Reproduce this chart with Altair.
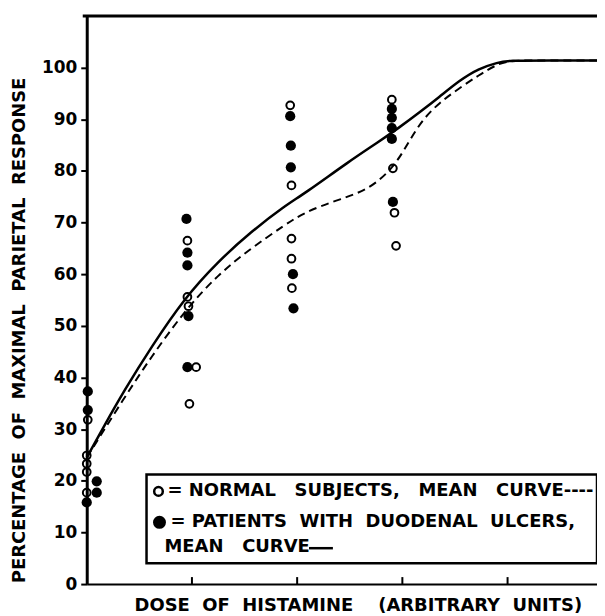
import altair as alt
import pandas as pd

# ---- data ----
normal_dose = [0.01, 0.0, 0.0, 0.0, 0.0,
               0.957, 0.957, 0.967, 1.04, 0.976,
               1.934, 1.946, 1.946, 1.946, 1.95,
               2.9, 2.91, 2.925, 2.94]
normal_val = [31.8, 24.9, 23.3, 21.7, 17.7,
              66.5, 55.6, 53.8, 42.0, 34.9,
              92.7, 77.2, 66.9, 63.0, 57.3,
              93.8, 80.5, 71.9, 65.5]

ulcer_dose = [0.01, 0.01, 0.0, 0.095, 0.095,
              0.948, 0.957, 0.957, 0.967, 0.957,
              1.934, 1.94, 1.94, 1.96, 1.965,
              2.9, 2.9, 2.9, 2.9, 2.91]
ulcer_val = [37.3, 33.7, 15.8, 19.9, 17.7,
             70.7, 64.2, 61.7, 51.9, 42.0,
             90.6, 84.9, 80.7, 60.0, 53.4,
             92.0, 90.3, 88.3, 86.2, 74.0]

solid_dose = [0.0, 0.17, 0.36, 0.61, 0.93, 1.245, 1.56, 1.88, 2.07, 2.49, 2.78, 2.97,
              3.16, 3.35, 3.54, 3.73, 3.91, 4.0, 4.4, 4.85]
solid_val = [24.5, 30.8, 37.6, 45.8, 55.4, 62.4, 68.2, 73.2, 75.6, 81.8, 85.7, 88.4,
             91.3, 94.3, 97.5, 99.9, 101.0, 101.4, 101.4, 101.4]

dash_dose = [0.0, 0.36, 0.61, 0.93, 1.245, 1.56, 1.88, 2.07, 2.37, 2.68, 2.92, 3.06,
             3.19, 3.35, 3.54, 3.73, 3.89, 4.0, 4.4, 4.85]
dash_val = [24.5, 36.2, 43.9, 52.9, 59.9, 65.0, 69.5, 72.0, 74.3, 76.3, 80.7, 85.6,
            89.9, 93.2, 96.0, 98.6, 100.5, 101.4, 101.4, 101.4]

tick_doses = [1, 2, 3, 4]
y_ticks = [0, 10, 20, 30, 40, 50, 60, 70, 80, 90, 100]

S = "\u00a0"
y_title = f"PERCENTAGE{S*2}OF{S*2}MAXIMAL{S*2}PARIETAL{S*2}RESPONSE"
x_title = f"DOSE{S*2}OF{S*2}HISTAMINE{S*4}(ARBITRARY{S*2}UNITS)"
legend_line1 = f"={S}NORMAL{S*3}SUBJECTS,{S*3}MEAN{S*3}CURVE----"
legend_line2 = f"={S}PATIENTS{S*2}WITH{S*2}DUODENAL{S*2}ULCERS,"
legend_line3 = f"MEAN{S*3}CURVE"

W, H = 512, 570
FONT = "DejaVu Sans"

normal_df = pd.DataFrame({"dose": normal_dose, "value": normal_val})
ulcer_df = pd.DataFrame({"dose": ulcer_dose, "value": ulcer_val})
solid_df = pd.DataFrame({"dose": solid_dose, "value": solid_val})
dash_df = pd.DataFrame({"dose": dash_dose, "value": dash_val})
tick_df = pd.DataFrame({"dose": tick_doses})

xscale = alt.Scale(domain=[0, 4.85], nice=False, zero=False)
yscale = alt.Scale(domain=[0, 110], nice=False)

xaxis = alt.Axis(labels=False, ticks=False, grid=False, domainColor="black",
                 domainWidth=2, title=x_title, titleFont=FONT, titleFontSize=18,
                 titleFontWeight="bold", titleColor="black", titleX=272, titleY=22,
                 titleAlign="center", titleBaseline="middle")
yaxis = alt.Axis(values=y_ticks, grid=False, domainColor="black", domainWidth=3,
                 tickColor="black", tickWidth=2, tickSize=6, labelPadding=4,
                 labelFont=FONT, labelFontSize=17, labelFontWeight="bold",
                 labelColor="black", title=y_title, titleFont=FONT,
                 titleFontSize=18, titleFontWeight="bold", titleColor="black",
                 titleX=-67, titleY=315, titleAngle=270, titleAlign="center",
                 titleBaseline="middle")

X = alt.X("dose:Q", scale=xscale, axis=xaxis)
Y = alt.Y("value:Q", scale=yscale, axis=yaxis)

solid = alt.Chart(solid_df).mark_line(interpolate="basis", color="black",
                                      strokeWidth=2.5).encode(x=X, y=Y)
dashed = alt.Chart(dash_df).mark_line(interpolate="basis", color="black",
                                      strokeWidth=2, strokeDash=[8, 5]).encode(x=X, y=Y)
open_pts = alt.Chart(normal_df).mark_point(shape="circle", filled=False, color="black",
                                           strokeWidth=2, size=60, opacity=1).encode(x=X, y=Y)
filled_pts = alt.Chart(ulcer_df).mark_circle(color="black", size=105,
                                             opacity=1).encode(x=X, y=Y)

xticks = alt.Chart(tick_df).mark_rule(color="black", strokeWidth=2).encode(
    x=alt.X("dose:Q", scale=xscale), y=alt.value(H), y2=alt.value(H - 7))

one = alt.Data(values=[{"k": 1}])
top_border = alt.Chart(one).mark_rule(color="black", strokeWidth=3).encode(
    x=alt.value(-4), x2=alt.value(W), y=alt.value(0))

legend_box = alt.Chart(one).mark_rect(fill="white", stroke="black", strokeWidth=2.5).encode(
    x=alt.value(60), x2=alt.value(512), y=alt.value(460), y2=alt.value(549))
leg_open = alt.Chart(one).mark_point(shape="circle", filled=False, color="black",
                                     strokeWidth=2.5, size=75, opacity=1).encode(
    x=alt.value(72), y=alt.value(477))
leg_filled = alt.Chart(one).mark_circle(color="black", size=170, opacity=1).encode(
    x=alt.value(73), y=alt.value(508))

def legtext(txt, x, y):
    return alt.Chart(one).mark_text(text=txt, align="left", baseline="middle", font=FONT,
                                    fontSize=18, fontWeight="bold", color="black").encode(
        x=alt.value(x), y=alt.value(y))

leg1 = legtext(legend_line1, 81, 477)
leg2 = legtext(legend_line2, 84, 508)
leg3 = legtext(legend_line3, 78, 533)
leg_line = alt.Chart(one).mark_rule(color="black", strokeWidth=2.5).encode(
    x=alt.value(223), x2=alt.value(247), y=alt.value(534))

chart = alt.layer(
    dashed, solid, open_pts, filled_pts, xticks, top_border,
    legend_box, leg_open, leg_filled, leg1, leg2, leg3, leg_line
).properties(
    width=W, height=H,
    padding={"left": 79, "top": 7, "right": 0, "bottom": 30},
    autosize=alt.AutoSizeParams(type="none"),
    background="white",
).configure_view(stroke=None)

chart.save("out.html", embed_options={"renderer": "svg", "actions": False})
